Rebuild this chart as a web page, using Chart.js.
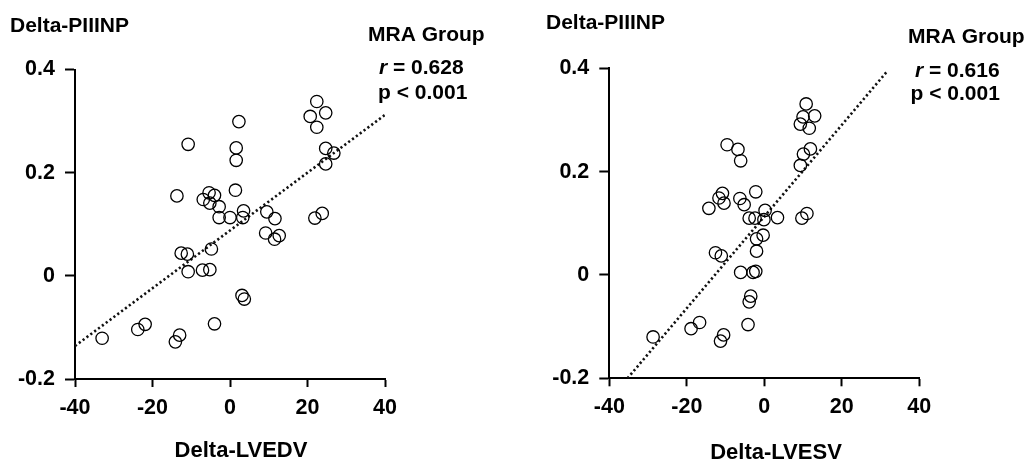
<!DOCTYPE html>
<html>
<head>
<meta charset="utf-8">
<script src="https://cdn.jsdelivr.net/npm/chart.js@4.4.1/dist/chart.umd.min.js"></script>
<style>
  html, body { margin: 0; padding: 0; background: #fff; }
  #wrap { position: relative; width: 1033px; height: 463px; }
  .cv { position: absolute; top: 0; height: 463px; }
</style>
</head>
<body>
<div id="wrap">
  <div class="cv" style="left:0;width:516px;"><canvas id="c1"></canvas></div>
  <div class="cv" style="left:516px;width:517px;"><canvas id="c2"></canvas></div>
</div>
<script>
// ---- data ----
const xTicks = [-40, -20, 0, 20, 40];
const yTicks = [-0.2, 0, 0.2, 0.4];

const lvedvX = [22.4, 24.7, 20.7, 22.4, 2.3, -10.8, 1.6, 1.6, 24.7, 26.8, 24.7, -13.7, 1.4, -5.4, -4.0, -6.9, -5.2, -2.8, -2.8, 0.0, 3.5, 3.3, 9.5, 11.6, 9.2, 11.5, 12.7, 21.9, 23.8, -12.6, -11.0, -4.8, -10.8, -7.1, -5.2, 3.1, 3.7, -4.0, -21.9, -23.8, -13.0, -14.1, -33.0];
const lvedvY = [0.338, 0.316, 0.309, 0.288, 0.299, 0.255, 0.248, 0.224, 0.247, 0.238, 0.217, 0.155, 0.166, 0.161, 0.156, 0.148, 0.141, 0.134, 0.113, 0.113, 0.126, 0.113, 0.124, 0.111, 0.083, 0.071, 0.078, 0.112, 0.121, 0.044, 0.042, 0.052, 0.008, 0.011, 0.012, -0.038, -0.045, -0.093, -0.094, -0.104, -0.115, -0.128, -0.121];
const fitLeftX = [-40, 40];
const fitLeftY = [-0.136, 0.312];

const lvesvX = [10.8, 13.0, 10.0, 9.3, 11.6, -9.6, -6.8, -6.1, 11.9, 10.1, 9.3, -2.2, -10.8, -11.7, -10.4, -6.3, -5.2, -14.3, 0.2, -0.1, 3.4, -3.9, -2.4, 9.7, 11.0, -0.3, -2.0, -2.0, -12.6, -11.1, -6.1, -2.9, -2.2, -3.5, -3.9, -4.2, -16.7, -18.9, -10.5, -11.3, -28.7];
const lvesvY = [0.331, 0.308, 0.306, 0.292, 0.284, 0.252, 0.243, 0.221, 0.244, 0.234, 0.212, 0.161, 0.158, 0.149, 0.139, 0.148, 0.136, 0.129, 0.125, 0.107, 0.111, 0.110, 0.110, 0.110, 0.119, 0.077, 0.070, 0.046, 0.043, 0.037, 0.005, 0.005, 0.007, -0.041, -0.052, -0.096, -0.092, -0.104, -0.116, -0.128, -0.120];
const fitRightX = [-35.3, 31.8];
const fitRightY = [-0.2, 0.395];

const FONT = '"Liberation Sans", Arial, sans-serif';

function pts(xs, ys) { return xs.map((x, i) => ({ x: x, y: ys[i] })); }

const textPlugin = {
  id: 'texts',
  afterDraw(chart, args, opts) {
    const ctx = chart.ctx;
    ctx.save();
    ctx.fillStyle = '#000';
    ctx.textBaseline = 'alphabetic';
    (opts.items || []).forEach(it => {
      let x = it.x - opts.offsetX;
      const size = it.size || 21;
      ctx.textAlign = it.align || 'left';
      if (it.parts) {
        it.parts.forEach(p => {
          ctx.font = (p.italic ? 'italic ' : '') + 'bold ' + size + 'px ' + FONT;
          ctx.textAlign = 'left';
          ctx.fillText(p.t, x, it.y);
          x += ctx.measureText(p.t).width;
        });
      } else {
        ctx.font = 'bold ' + size + 'px ' + FONT;
        ctx.fillText(it.t, x, it.y);
      }
    });
    ctx.restore();
  }
};

function makeChart(id, xs, ys, fx, fy, area, canvasW, offsetX, items) {
  return new Chart(document.getElementById(id), {
    type: 'scatter',
    data: {
      datasets: [
        {
          data: pts(xs, ys),
          pointRadius: 6.2,
          pointHoverRadius: 6.2,
          pointBorderWidth: 1.3,
          borderColor: '#000',
          backgroundColor: 'rgba(0,0,0,0)',
          pointStyle: 'circle'
        },
        {
          type: 'line',
          data: pts(fx, fy),
          borderColor: '#111',
          borderWidth: 2.6,
          borderDash: [2.2, 2.6],
          pointRadius: 0,
          fill: false,
          tension: 0
        }
      ]
    },
    options: {
      responsive: true,
      maintainAspectRatio: false,
      animation: false,
      events: [],
      layout: { padding: { left: 0, top: area.top, right: canvasW - area.right, bottom: 0 } },
      plugins: {
        legend: { display: false },
        tooltip: { enabled: false },
        texts: { offsetX: offsetX, items: items }
      },
      scales: {
        x: {
          type: 'linear',
          min: -40, max: 40,
          afterBuildTicks: s => { s.ticks = xTicks.map(v => ({ value: v })); },
          afterFit: s => { s.height = 463 - area.bottom; },
          border: { display: true, color: '#000', width: 2 },
          grid: { display: true, drawOnChartArea: false, drawTicks: true, tickLength: 8, tickWidth: 2, tickColor: '#000' },
          ticks: { color: '#000', padding: 8, maxRotation: 0, font: { family: FONT, size: 21.5, weight: 'bold' },
                   callback: v => String(v) }
        },
        y: {
          type: 'linear',
          min: -0.2, max: 0.4,
          afterBuildTicks: s => { s.ticks = yTicks.map(v => ({ value: v })); },
          afterFit: s => { s.width = area.left; },
          border: { display: true, color: '#000', width: 2 },
          grid: { display: true, drawOnChartArea: false, drawTicks: true, tickLength: 10, tickWidth: 2, tickColor: '#000' },
          ticks: { color: '#000', padding: 10, font: { family: FONT, size: 21.5, weight: 'bold' },
                   callback: v => (Math.abs(v) < 1e-9 ? '0' : String(Math.round(v * 10) / 10)) }
        }
      }
    },
    plugins: [textPlugin]
  });
}

makeChart('c1', lvedvX, lvedvY, fitLeftX, fitLeftY,
  { left: 75, right: 385, top: 69.5, bottom: 379 }, 516, 0,
  [
    { t: 'Delta-PIIINP', x: 10, y: 31.5 },
    { t: 'MRA Group', x: 368, y: 41 },
    { parts: [{ t: 'r', italic: true }, { t: ' = 0.628' }], x: 379, y: 74 },
    { t: 'p < 0.001', x: 378, y: 99 },
    { t: 'Delta-LVEDV', x: 241, y: 457, align: 'center', size: 22 }
  ]);

makeChart('c2', lvesvX, lvesvY, fitRightX, fitRightY,
  { left: 93.3, right: 403.3, top: 68.3, bottom: 378.3 }, 517, 516,
  [
    { t: 'Delta-PIIINP', x: 546, y: 28.5 },
    { t: 'MRA Group', x: 908, y: 42.5 },
    { parts: [{ t: 'r', italic: true }, { t: ' = 0.616' }], x: 915, y: 77 },
    { t: 'p < 0.001', x: 910.5, y: 100 },
    { t: 'Delta-LVESV', x: 776, y: 459, align: 'center', size: 22 }
  ]);
</script>
</body>
</html>
